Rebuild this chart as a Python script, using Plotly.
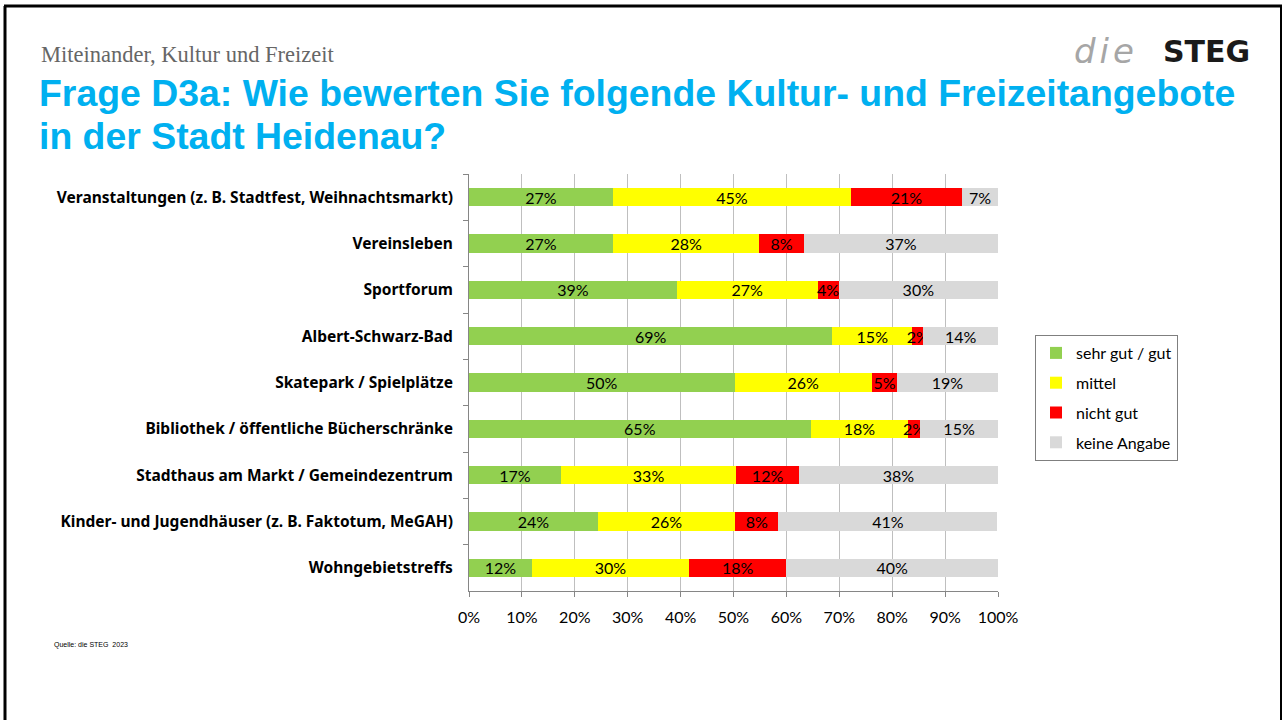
import plotly.graph_objects as go

# Survey results, share of answers in percent
categories = [
    "Veranstaltungen (z. B. Stadtfest, Weihnachtsmarkt)",
    "Vereinsleben",
    "Sportforum",
    "Albert-Schwarz-Bad",
    "Skatepark / Spielplätze",
    "Bibliothek / öffentliche Bücherschränke",
    "Stadthaus am Markt / Gemeindezentrum",
    "Kinder- und Jugendhäuser (z. B. Faktotum, MeGAH)",
    "Wohngebietstreffs",
]
sehr_gut = [27.2, 27.2, 39.3, 68.7, 50.2, 64.6, 17.4, 24.4, 11.9]
mittel = [45.0, 27.7, 26.6, 15.1, 26.0, 18.4, 33.1, 25.9, 29.7]
nicht_gut = [21.0, 8.4, 4.0, 2.1, 4.7, 2.3, 11.9, 8.2, 18.4]
keine_angabe = [6.8, 36.7, 30.1, 14.1, 19.1, 14.7, 37.6, 41.4, 40.0]

series = [
    ("sehr gut / gut", sehr_gut, "#92D050"),
    ("mittel", mittel, "#FFFF00"),
    ("nicht gut", nicht_gut, "#FF0000"),
    ("keine Angabe", keine_angabe, "#D9D9D9"),
]
x_ticks = list(range(0, 101, 10))

W, H = 1283, 720
PL, PR, PT, PB = 469, 998, 174, 591  # plot area in pixels


def px_x(p):
    return (p - PL) / (PR - PL)


def px_y(p):
    return (PB - p) / (PB - PT)


fig = go.Figure()
for name, vals, color in series:
    fig.add_trace(go.Bar(
        y=categories, x=vals, name=name, orientation="h",
        marker=dict(color=color, line=dict(width=0)),
        text=vals, texttemplate="%{x:.0f}%",
        textposition="inside", insidetextanchor="middle", textangle=0,
        constraintext="none", cliponaxis=False,
        textfont=dict(family="Lato", size=16, color="#000000"),
        legendgroup=name,
    ))

fig.update_layout(
    width=W, height=H,
    margin=dict(l=PL, r=W - PR, t=PT, b=H - PB, pad=0),
    barmode="stack", bargap=0.61,
    plot_bgcolor="white", paper_bgcolor="white",
    uniformtext=dict(minsize=16, mode="show"),
    showlegend=True,
    legend=dict(
        x=px_x(1035), y=px_y(335), xanchor="left", yanchor="top",
        bordercolor="#7F7F7F", borderwidth=1, bgcolor="white",
        font=dict(family="Lato", size=16, color="#000000"),
        traceorder="grouped", tracegroupgap=6,
        itemwidth=30,
    ),
    xaxis=dict(
        range=[0, 100], tickvals=x_ticks,
        ticktext=[f"{v}%" for v in x_ticks],
        showgrid=True, gridcolor="#BFBFBF", gridwidth=1,
        showline=True, linecolor="#868686", linewidth=1,
        ticks="outside", ticklen=5, tickcolor="#868686",
        ticklabelstandoff=7,
        tickfont=dict(family="Lato", size=16, color="#000000"),
        zeroline=False, fixedrange=True,
    ),
    yaxis=dict(
        autorange="reversed",
        showline=True, linecolor="#868686", linewidth=1,
        ticks="outside", ticklen=5, tickcolor="#868686",
        tickson="boundaries", ticklabelstandoff=12,
        tickfont=dict(family="Noto Sans", size=15.5, color="#000000", weight="bold"),
        showgrid=False,
    ),
)

annotations = [
    dict(text="Miteinander, Kultur und Freizeit", x=px_x(39), y=px_y(54),
         xanchor="left", yanchor="middle", showarrow=False,
         font=dict(family="Liberation Serif", size=22.5, color="#666666")),
    dict(text="Frage D3a: Wie bewerten Sie folgende Kultur- und Freizeitangebote",
         x=px_x(37), y=px_y(93), xanchor="left", yanchor="middle",
         showarrow=False,
         font=dict(family="Liberation Sans", size=37.4, color="#00B0F0", weight="bold")),
    dict(text="in der Stadt Heidenau?",
         x=px_x(37), y=px_y(136), xanchor="left", yanchor="middle",
         showarrow=False,
         font=dict(family="Liberation Sans", size=37.4, color="#00B0F0", weight="bold")),
    dict(text="<span style='color:#A6A6A6;letter-spacing:4px'><i>die</i></span>",
         x=px_x(1140), y=px_y(51),
         xanchor="right", yanchor="middle", showarrow=False,
         font=dict(family="DejaVu Sans", size=34, color="#A6A6A6")),
    dict(text="<b>STEG</b>",
         x=px_x(1252), y=px_y(51),
         xanchor="right", yanchor="middle", showarrow=False,
         font=dict(family="DejaVu Sans", size=30, color="#1A1A1A")),
    dict(text="Quelle: die STEG  2023", x=px_x(52), y=px_y(645),
         xanchor="left", yanchor="middle", showarrow=False,
         font=dict(family="Liberation Sans", size=7, color="#000000")),
]
for a in annotations:
    a.update(xref="paper", yref="paper")
fig.update_layout(annotations=annotations)

# Slide frame
frame = [
    (5, 6, 5, 720, 3),
    (4, 6, 1282, 6, 3),
    (1281, 6, 1281, 720, 2),
]
shapes = []
for x0, y0, x1, y1, w in frame:
    shapes.append(dict(type="line", xref="paper", yref="paper",
                       x0=px_x(x0), y0=px_y(y0), x1=px_x(x1), y1=px_y(y1),
                       line=dict(color="#000000", width=w)))
fig.update_layout(shapes=shapes)

fig.write_html("out.html")
